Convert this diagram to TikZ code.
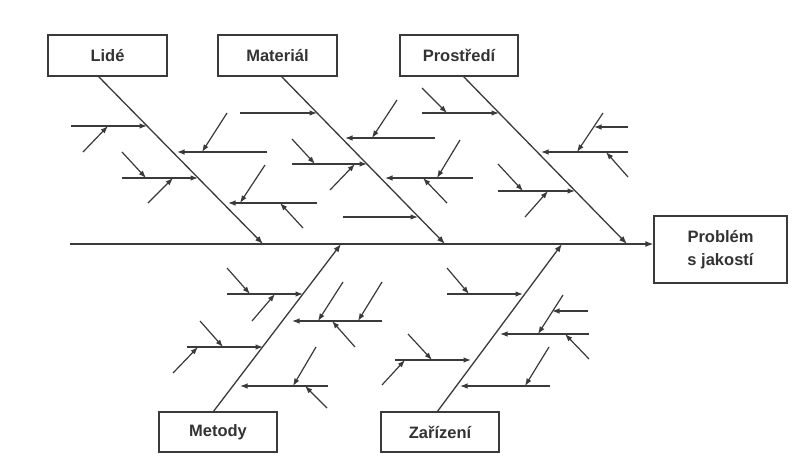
\documentclass[tikz,border=0pt]{standalone}
\usepackage{fontspec}
\setmainfont{Liberation Sans}
\usetikzlibrary{arrows.meta}
\definecolor{ink}{HTML}{3A3A3A}
\definecolor{txt}{HTML}{333333}
\tikzset{
  arr/.style={draw=ink, line width=1.2pt, -{Latex[length=7.5pt,width=5.5pt]}},
  rib/.style={draw=ink, line width=1.3pt, -{Latex[length=8pt,width=6pt]}},
  catbox/.style={draw=ink, line width=1.3pt, fill=white, text=txt, inner sep=0pt,
    font=\fontsize{16.5}{23}\selectfont\bfseries, align=center},
}
\newcommand\fbar[3]{\coordinate (#1s) at (#2); \coordinate (#1e) at (#3); \draw[arr] (#1s) -- (#1e);}
\newcommand\fbrib[3]{\coordinate (#1s) at (#2); \coordinate (#1e) at (#3); \draw[rib] (#1s) -- (#1e);}
\begin{document}
\begin{tikzpicture}[x=1pt,y=-1pt]
\useasboundingbox[fill=white] (0,0) rectangle (803,456);
% boxes
\node[catbox, minimum width=119pt, minimum height=41pt] (lide) at (107.5,55.5) {Lidé};
\node[catbox, minimum width=119pt, minimum height=41pt] (mat) at (277.5,55.5) {Materiál};
\node[catbox, minimum width=118pt, minimum height=41pt] (pro) at (459,55.5) {Prostředí};
\node[catbox, minimum width=118pt, minimum height=40pt] (met) at (218,432) {Metody};
\node[catbox, minimum width=118pt, minimum height=40pt] (zar) at (440,432) {Zařízení};
\node[catbox, minimum width=133pt, minimum height=67pt] (prob) at (720.5,249.5) {Problém\\s jakostí};
% spine
\coordinate (sp) at (70,244);
\draw[rib] (sp) -- (sp -| prob.west);
% ribs
\fbrib{rl}{98,76}{263,244}
\fbrib{rm}{281,76}{445,244}
\fbrib{rp}{463,76}{627,244}
\fbrib{rd}{213,412}{341,244}
\fbrib{rz}{437,412}{562,244}
% Lide
\fbar{la}{71,126}{147,126}
\fbar{lb}{83,152}{108,126}
\fbar{lc}{122,178}{198,178}
\fbar{ld}{122,152}{146,178}
\fbar{le}{148,203}{173,178}
\fbar{lf}{267,152}{177,152}
\fbar{lg}{227,113}{202,152}
\fbar{lh}{317,203}{228,203}
\fbar{li}{265,165}{240,203}
\fbar{lj}{303,228}{280,203}
% Material
\fbar{ma}{240,113}{317,113}
\fbar{mb}{435,138}{345,138}
\fbar{mc}{397,100}{372,138}
\fbar{md}{292,164}{367,164}
\fbar{me}{292,139}{315,164}
\fbar{mf}{330,190}{355,164}
\fbar{mg}{343,217}{418,217}
\fbar{mh}{473,178}{385,178}
\fbar{mi}{460,140}{437,178}
\fbar{mj}{447,203}{423,178}
% Prostredi
\fbar{pa}{422,113}{499,113}
\fbar{pb}{422,88}{447,113}
\fbar{pc}{628,152}{541,152}
\fbar{pd}{603,113}{577,152}
\fbar{pe}{628,127}{594,127}
\fbar{pf}{628,177}{606,152}
\fbar{pg}{498,191}{575,191}
\fbar{ph}{498,164}{523,191}
\fbar{pi}{525,217}{548,191}
% Metody
\fbar{da}{227,294}{303,294}
\fbar{db}{227,268}{250,294}
\fbar{dc}{252,321}{275,294}
\fbar{dd}{187,347}{263,347}
\fbar{de}{200,321}{223,347}
\fbar{df}{173,373}{198,347}
\fbar{dg}{382,321}{292,321}
\fbar{dh}{343,282}{318,321}
\fbar{di}{382,282}{358,321}
\fbar{dj}{355,347}{332,321}
\fbar{dk}{328,386}{240,386}
\fbar{dl}{316,347}{293,386}
\fbar{dm}{327,408}{305,386}
% Zarizeni
\fbar{za}{447,294}{523,294}
\fbar{zb}{447,268}{469,294}
\fbar{zc}{395,360}{471,360}
\fbar{zd}{408,334}{432,360}
\fbar{ze}{382,385}{405,360}
\fbar{zf}{589,334}{500,334}
\fbar{zg}{563,295}{538,334}
\fbar{zh}{588,311}{552,311}
\fbar{zi}{589,359}{565,334}
\fbar{zj}{550,386}{460,386}
\fbar{zk}{549,347}{525,386}
\end{tikzpicture}
\end{document}
